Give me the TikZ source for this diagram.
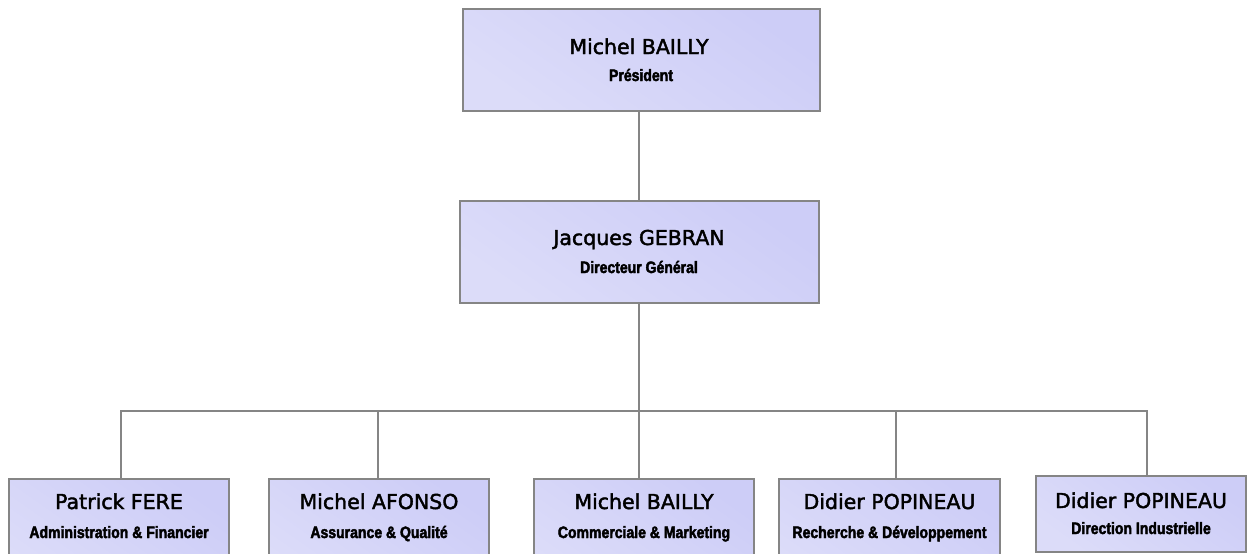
\documentclass[tikz,border=0pt]{standalone}
\usepackage{fontspec}
\newfontfamily\namefont{DejaVu Sans}[FakeBold=2]
\newfontfamily\rolefont{Liberation Sans Bold}[FakeStretch=0.85,FakeBold=2.5]
\definecolor{boxdark}{HTML}{CDCDF7}
\definecolor{boxlight}{HTML}{DCDCF9}
\definecolor{edge}{HTML}{858585}
\tikzset{
  orgbox/.style={draw=edge, line width=2pt, rectangle, inner sep=0pt,
    top color=boxdark, bottom color=boxlight, shading angle=-35},
  nametext/.style={anchor=base, inner sep=0pt, font=\namefont\fontsize{20.5}{20.5}\selectfont},
  roletext/.style={anchor=base, inner sep=0pt, font=\rolefont\fontsize{16.5}{16.5}\selectfont},
  link/.style={draw=edge, line width=2pt}
}
\begin{document}
\begin{tikzpicture}[x=1pt,y=-1pt]
\clip (0,0) rectangle (1254,554);
\fill[white] (0,0) rectangle (1254,554);
% boxes
\node[orgbox, minimum width=357pt, minimum height=102pt] (P) at (641.5,60) {};
\node[orgbox, minimum width=359pt, minimum height=102pt] (J) at (639.5,252) {};
\node[orgbox, minimum width=220pt, minimum height=110pt] (B1) at (119,534) {};
\node[orgbox, minimum width=220pt, minimum height=110pt] (B2) at (379,534) {};
\node[orgbox, minimum width=220pt, minimum height=110pt] (B3) at (644,534) {};
\node[orgbox, minimum width=221pt, minimum height=110pt] (B4) at (889.5,534) {};
\node[orgbox, minimum width=210pt, minimum height=76pt] (B5) at (1141,514) {};
% texts
\node[nametext] (Pn) at (639,54) {Michel BAILLY};
\node[roletext] (Pr) at (641,81) {Président};
\node[nametext] (Jn) at (639,245) {Jacques GEBRAN};
\node[roletext] (Jr) at (639,273) {Directeur Général};
\node[nametext] (B1n) at (119,509) {Patrick FERE};
\node[roletext] (B1r) at (119,538) {Administration \& Financier};
\node[nametext] (B2n) at (379,509) {Michel AFONSO};
\node[roletext] (B2r) at (379,538) {Assurance \& Qualité};
\node[nametext] (B3n) at (644,509) {Michel BAILLY};
\node[roletext] (B3r) at (644,538) {Commerciale \& Marketing};
\node[nametext] (B4n) at (889.5,509) {Didier POPINEAU};
\node[roletext] (B4r) at (889.5,538) {Recherche \& Développement};
\node[nametext] (B5n) at (1141,508) {Didier POPINEAU};
\node[roletext] (B5r) at (1141,534) {Direction Industrielle};
% connectors
\coordinate (bus) at (639,411);
\draw[link] (P.south -| bus) -- (J.north -| bus);
\draw[link] (J.south -| bus) -- (bus);
\coordinate (c1) at (121,0);
\coordinate (c2) at (378,0);
\coordinate (c3) at (639,0);
\coordinate (c4) at (896,0);
\coordinate (c5) at (1147,0);
\draw[link] (B1.north -| c1) |- (bus);
\draw[link] (B2.north -| c2) |- (bus);
\draw[link] (B3.north -| c3) |- (bus);
\draw[link] (B4.north -| c4) |- (bus);
\draw[link] (B5.north -| c5) |- (bus);
\end{tikzpicture}
\end{document}
